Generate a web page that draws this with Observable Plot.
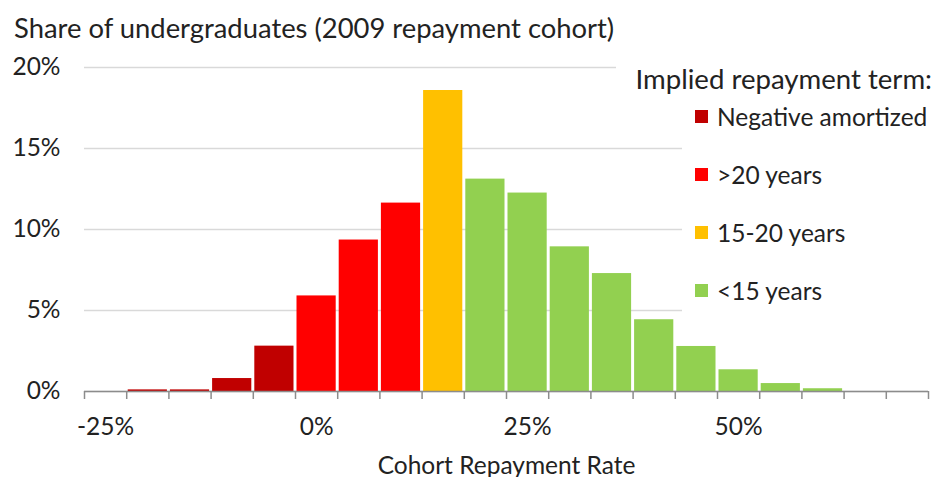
<!DOCTYPE html>
<html>
<head>
<meta charset="utf-8">
<script src="https://cdn.jsdelivr.net/npm/d3@7"></script>
<script src="https://cdn.jsdelivr.net/npm/@observablehq/plot@0.6"></script>
<style>
  html, body { margin: 0; padding: 0; background: #fff; }
  #wrap { position: relative; width: 935px; height: 477px; font-family: Lato, "Open Sans", sans-serif; color: #222; }
  #title { position: absolute; left: 14px; top: 14px; font-size: 27.4px; line-height: 1; white-space: nowrap; }
  #legend { position: absolute; left: 612px; top: 60px; width: 323px; height: 255px; }
  #legend .lt { position: absolute; right: 3px; top: 3px; font-size: 27.6px; line-height: 1; white-space: nowrap; background: #fff; padding: 2px 0 4px 20px; }
  #legend .box { position: absolute; left: 70px; top: 40px; width: 253px; height: 215px; background: #fff; }
  #legend .item { position: absolute; left: 13px; font-size: 24.5px; white-space: nowrap; display: flex; align-items: center; }
  #legend .sw { width: 13px; height: 13px; margin-right: 9px; display: inline-block; }
  svg text { fill: #222; }
</style>
</head>
<body>
<div id="wrap">
  <div id="chart"></div>
  <div id="title"></div>
  <div id="legend"><div class="box"></div><div class="lt"></div></div>
</div>
<script>
// Data
const titleText = "Share of undergraduates (2009 repayment cohort)";
const xLabel = "Cohort Repayment Rate";
const legendTitle = "Implied repayment term:";
const binCenters = [-25, -20, -15, -10, -5, 0, 5, 10, 15, 20, 25, 30, 35, 40, 45, 50, 55, 60, 65, 70];
const binWidth = 5;
const shares = [0, 0.1, 0.1, 0.8, 2.8, 5.9, 9.35, 11.63, 18.58, 13.11, 12.25, 8.93, 7.28, 4.43, 2.78, 1.34, 0.49, 0.17, 0, 0];
const terms = [
  "Negative amortized", "Negative amortized", "Negative amortized", "Negative amortized", "Negative amortized",
  ">20 years", ">20 years", ">20 years",
  "15-20 years",
  "<15 years", "<15 years", "<15 years", "<15 years", "<15 years", "<15 years", "<15 years", "<15 years", "<15 years", "<15 years", "<15 years"
];
const termNames = ["Negative amortized", ">20 years", "15-20 years", "<15 years"];
const termColors = ["#C00000", "#FF0000", "#FFC000", "#92D050"];
const yTicks = [0, 5, 10, 15, 20];
const xLabelTicks = [-25, 0, 25, 50];

const data = binCenters.map((c, i) => ({lo: c - binWidth / 2, hi: c + binWidth / 2, share: shares[i], term: terms[i]}));
const edges = [...binCenters.map(c => c - binWidth / 2), binCenters[binCenters.length - 1] + binWidth / 2];

const chart = Plot.plot({
  width: 935,
  height: 477,
  marginLeft: 84,
  marginRight: 7,
  marginTop: 67,
  marginBottom: 86,
  style: {fontFamily: "Lato, 'Open Sans', sans-serif", fontSize: "24.5px", color: "#222", background: "#fff"},
  x: {domain: [edges[0], edges[edges.length - 1]]},
  y: {domain: [0, 20]},
  color: {domain: termNames, range: termColors},
  marks: [
    Plot.gridY(yTicks, {stroke: "#d9d9d9", strokeOpacity: 1, strokeWidth: 1.5}),
    Plot.rectY(data, {x1: "lo", x2: "hi", y: "share", fill: "term", insetLeft: 1.5, insetRight: 1.5}),
    Plot.ruleY([0], {stroke: "#8c8c8c", strokeWidth: 1.5}),
    Plot.axisY({ticks: yTicks, tickSize: 0, tickPadding: 24, tickFormat: d => d + "%", label: null}),
    Plot.axisX({ticks: edges, tickSize: 8, stroke: "#8c8c8c", strokeWidth: 1.5, tickFormat: () => "", label: null}),
    Plot.axisX({ticks: xLabelTicks, tickSize: 0, tickPadding: 26, tickFormat: d => d + "%",
      label: xLabel, labelAnchor: "center", labelArrow: "none", labelOffset: 82})
  ]
});
document.getElementById("chart").appendChild(chart);

document.getElementById("title").textContent = titleText;
const legend = document.getElementById("legend");
legend.querySelector(".lt").textContent = legendTitle;
const box = legend.querySelector(".box");
termNames.forEach((name, i) => {
  const item = document.createElement("div");
  item.className = "item";
  item.style.top = (58 * i + 2) + "px";
  const sw = document.createElement("span");
  sw.className = "sw";
  sw.style.background = termColors[i];
  item.appendChild(sw);
  item.appendChild(document.createTextNode(name));
  box.appendChild(item);
});
</script>
</body>
</html>
